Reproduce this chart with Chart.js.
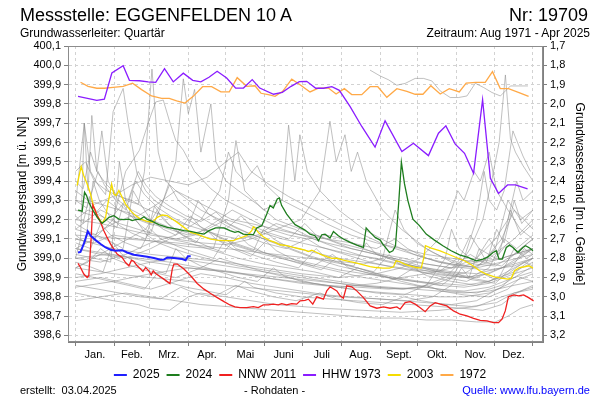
<!DOCTYPE html>
<html>
<head>
<meta charset="utf-8">
<script src="https://cdn.jsdelivr.net/npm/chart.js@4"></script>
<style>
  body { margin: 0; background: #fff; font-family: "Liberation Sans", Arial, sans-serif; }
  #wrap { position: relative; width: 600px; height: 400px; }
  canvas { position: absolute; left: 0; top: 0; }
  .t { position: absolute; white-space: nowrap; color: #000; line-height: 1; }
</style>
</head>
<body>
<div id="wrap">
  <canvas id="c" width="600" height="400"></canvas>
  <div class="t" style="left:20px;top:6px;font-size:18px">Messstelle: EGGENFELDEN 10 A</div>
  <div class="t" style="right:12px;top:6px;font-size:18px">Nr: 19709</div>
  <div class="t" style="left:20px;top:27px;font-size:12px">Grundwasserleiter: Quartär</div>
  <div class="t" style="right:10px;top:27px;font-size:12px">Zeitraum: Aug 1971 - Apr 2025</div>
  <div class="t" style="left:20px;top:385px;font-size:11px">erstellt:&nbsp; 03.04.2025</div>
  <div class="t" style="left:244px;top:385px;font-size:11px">- Rohdaten -</div>
  <div class="t" style="right:10px;top:385px;font-size:11px;color:#0000ff">Quelle: www.lfu.bayern.de</div>
</div>
<script>
// month labels and month starts (day of year)
const months = ['Jan.', 'Feb.', 'Mrz.', 'Apr.', 'Mai', 'Juni', 'Juli', 'Aug.', 'Sept.', 'Okt.', 'Nov.', 'Dez.'];
const monthStarts = [0, 31, 59, 90, 120, 151, 181, 212, 243, 273, 304, 334, 365];
const leftTicks = [398.6, 398.7, 398.8, 398.9, 399.0, 399.1, 399.2, 399.3, 399.4, 399.5, 399.6, 399.7, 399.8, 399.9, 400.0, 400.1];
const rightTicks = [1.7, 1.8, 1.9, 2.0, 2.1, 2.2, 2.3, 2.4, 2.5, 2.6, 2.7, 2.8, 2.9, 3.0, 3.1, 3.2];
const groundLevel = 401.8;

// [day of year, level m ü. NN]
const lvl2025 = [[2,399.030],[4,399.033],[6.6,399.074],[9.8,399.139],[12,399.117],[16,399.094],[20,399.074],[24,399.056],[28,399.044],[32,399.039],[37.2,399.042],[41.2,399.030],[46.6,399.018],[51.9,399.013],[57.2,399.008],[62.5,399.001],[67.9,398.992],[70.5,398.993],[73.2,399.004],[78.5,399.001],[85.1,398.996],[87.8,398.990],[89.7,399.011],[91.9,399.011]];

const lvl2024 = [[2,399.250],[4,399.247],[5.3,399.243],[7.2,399.342],[8.8,399.325],[10.6,399.290],[13.3,399.255],[17.3,399.212],[21.2,399.181],[24,399.195],[26.6,399.212],[30.6,399.221],[34.6,399.203],[38.6,399.200],[42.6,399.203],[45.2,399.195],[47.9,399.200],[51.9,399.203],[54.6,399.215],[57.2,399.201],[61.2,399.191],[66.5,399.174],[73.2,399.160],[81.2,399.151],[86.5,399.143],[91.9,399.139],[97.1,399.132],[102.5,399.125],[106.5,399.143],[111.8,399.157],[118.5,399.157],[123.2,399.143],[127.2,399.134],[129.9,399.139],[133.9,399.125],[137.9,399.122],[141.9,399.122],[144.6,399.157],[148.6,399.169],[152.6,399.229],[155.2,399.273],[157.8,399.261],[161,399.307],[162.6,399.313],[164.5,399.273],[168.5,399.229],[172.5,399.195],[175.2,399.174],[179.2,399.160],[183.1,399.146],[187.1,399.125],[191.1,399.117],[193.8,399.091],[196.5,399.122],[199.1,399.125],[203.1,399.105],[205.8,399.139],[209.7,399.117],[213.7,399.100],[219.1,399.082],[224.4,399.068],[229.7,399.056],[231.9,399.157],[235.1,399.134],[239.1,399.108],[243.1,399.094],[245.2,399.073],[250.5,399.030],[253.2,399.039],[255.3,399.065],[258,399.299],[260,399.498],[262.5,399.385],[265.2,399.299],[269.2,399.203],[274.4,399.169],[279.8,399.125],[286.4,399.094],[293.1,399.065],[299.7,399.039],[306.4,399.018],[313.1,399.004],[319.7,398.987],[325.1,398.996],[329.1,399.007],[333.1,399.030],[335.7,399.039],[337.9,398.996],[340.5,398.996],[343.7,399.056],[346.3,399.068],[349,399.056],[353,399.030],[357,399.056],[359.1,399.065],[362.3,399.053],[365,399.039]];

const lvlNNW2011 = [[2,398.973],[4,398.952],[6.6,398.918],[9.3,398.900],[10.6,398.909],[12.5,399.108],[13.8,399.276],[15.2,399.255],[17.3,399.221],[20,399.186],[22.6,399.143],[25.2,399.108],[28,399.073],[30.6,399.047],[33.2,399.022],[37.2,399.004],[39.9,398.978],[42.6,398.961],[44.7,398.990],[46.6,398.983],[49.2,398.961],[51.9,398.944],[53.8,398.931],[55.9,398.952],[58.5,398.935],[60.4,398.914],[62,398.935],[63.9,398.921],[66.5,398.909],[70.5,398.892],[73.2,398.879],[75.3,398.869],[77.2,398.944],[78.5,398.970],[81.2,398.970],[86.5,398.944],[91.9,398.909],[97.1,398.869],[102.5,398.840],[107.8,398.817],[113.1,398.796],[118.5,398.775],[123.2,398.758],[127.2,398.748],[131.2,398.744],[136.6,398.744],[141.9,398.749],[145.8,398.744],[149.8,398.758],[153.8,398.758],[157.7,398.762],[161.8,398.758],[164.5,398.765],[168.5,398.758],[172.5,398.765],[176.5,398.762],[179.2,398.779],[183.1,398.782],[185.8,398.788],[189.3,398.762],[192.5,398.800],[197.8,398.788],[200.5,398.831],[203.1,398.852],[208.5,398.831],[211.1,398.805],[213.7,398.793],[216.4,398.857],[220.4,398.852],[224.4,398.831],[229.7,398.796],[235.1,398.753],[240.4,398.741],[245.7,398.748],[251,398.741],[256.4,398.748],[259,398.736],[263,398.770],[267,398.775],[271,398.762],[275,398.744],[279,398.723],[283,398.753],[287,398.770],[291,398.762],[296.3,398.753],[301.6,398.727],[306.9,398.710],[312.3,398.701],[317.6,398.689],[322.9,398.678],[328.3,398.675],[333.5,398.666],[337.5,398.666],[340.3,398.684],[342.9,398.727],[345.4,398.800],[349.5,398.810],[353.5,398.805],[357.5,398.810],[361.5,398.796],[365.5,398.779]];

const lvlHHW1973 = [[2,399.839],[17,399.818],[23,399.824],[29,399.960],[38,399.998],[43,399.922],[51,399.920],[58,399.914],[64,399.912],[71,399.983],[78,399.914],[86,399.959],[93.5,399.922],[100,399.914],[106.5,399.938],[113,399.969],[120.6,399.934],[127.8,399.882],[134,399.882],[141,399.926],[147,399.882],[158,399.850],[165,399.860],[172,399.891],[178.6,399.915],[184.5,399.917],[191.7,399.881],[197.8,399.881],[204.5,399.889],[210.5,399.870],[219,399.787],[228.4,399.683],[239,399.576],[247,399.712],[260.4,399.553],[269.6,399.596],[281.6,399.532],[289.6,399.648],[295.5,399.686],[303,399.591],[310.4,399.544],[317.6,399.440],[324.8,399.822],[331,399.414],[337.5,399.336],[344.7,399.380],[351,399.380],[360.7,399.359]];

const lvl2003 = [[1.3,399.376],[2.6,399.420],[4.5,399.475],[6.6,399.428],[9.3,399.385],[12,399.333],[14.6,399.264],[17.3,399.221],[21.2,399.181],[24,399.212],[25.8,399.281],[27.4,399.333],[28.8,399.385],[30.6,399.333],[32.4,399.325],[34.6,399.351],[37.2,399.316],[39.9,399.281],[43.9,399.247],[47.9,399.221],[51.9,399.203],[57.2,399.191],[61.2,399.186],[65.2,399.212],[69.2,399.224],[73.2,399.221],[77.2,399.203],[81.2,399.186],[86.5,399.160],[91.9,399.134],[97.1,399.125],[102.5,399.111],[107.8,399.099],[113.1,399.094],[118.5,399.091],[125.9,399.091],[131.2,399.105],[136.6,399.117],[140.6,399.143],[141.9,399.163],[143.2,399.157],[145.8,399.134],[149.8,399.111],[155.2,399.091],[159.2,399.082],[163.2,399.070],[168.5,399.065],[173.8,399.056],[179.2,399.048],[183.1,399.042],[185.8,399.035],[188.5,399.042],[192.5,399.030],[196.5,399.018],[200.5,399.008],[204.5,398.999],[208.5,399.001],[213.7,398.990],[219.1,398.982],[224.4,398.975],[229.7,398.966],[235.1,398.957],[239.9,398.952],[245.2,398.949],[250.5,398.949],[253.7,398.956],[255.8,398.987],[258.5,398.983],[262.5,398.970],[266.5,398.961],[271.8,398.952],[275.8,398.949],[278,399.004],[279.2,399.065],[283.8,399.053],[290.4,399.039],[297.1,399.022],[303.8,399.004],[310.4,398.987],[317.1,398.961],[322.4,398.935],[327.7,398.918],[334.3,398.904],[339.7,398.897],[345,398.892],[347.8,398.897],[350.3,398.935],[354.3,398.952],[358.3,398.956],[361.8,398.961],[365,398.949]];

const lvl1972 = [[4,399.912],[10,399.891],[17,399.881],[23,399.881],[30,399.886],[38,399.891],[45.5,399.907],[52.7,399.874],[60.7,399.841],[68.7,399.829],[74.8,399.829],[80.7,399.816],[87.3,399.804],[93.9,399.839],[101.4,399.889],[108.6,399.889],[116,399.862],[122.7,399.862],[129,399.936],[136.6,399.891],[143.2,399.894],[148,399.855],[153.8,399.848],[159.2,399.839],[165.3,399.865],[172.5,399.928],[178.6,399.902],[187.1,399.862],[193.8,399.882],[201.8,399.882],[207.9,399.851],[214.5,399.879],[220.4,399.848],[228.4,399.848],[235,399.889],[241.2,399.889],[248.4,399.834],[256.4,399.879],[264.4,399.865],[271,399.850],[277.2,399.850],[283.5,399.894],[291,399.851],[298.2,399.879],[306.2,399.862],[311.7,399.908],[319.5,399.912],[326.9,399.912],[332.7,399.967],[338.9,399.879],[345.5,399.879],[354.9,399.856],[361.5,399.839]];

// other years (grey)
const grey1971 = [[235,399.975],[243,399.945],[249.7,399.925],[256.3,399.897],[263,399.906],[271,399.932],[277.7,399.932],[284.3,399.919],[291,399.867],[299,399.833],[305.6,399.833],[312.3,399.841],[319,399.907],[325.6,399.885],[332.3,399.859],[339,399.841],[347,399.893],[361,399.893]];
const greyA = [[0,399.28],[7,399.70],[12,399.45],[18,399.38],[24,399.33],[30,399.76],[38,399.88],[42,399.70],[49,399.44],[56,399.35],[63,399.30],[72,399.26],[84,399.22],[98,399.17],[112,399.12],[126,399.08],[140,399.05],[155,399.02],[170,399.00],[190,398.97],[210,398.94],[230,398.92],[250,398.90],[270,398.88],[290,398.87],[310,398.86],[330,398.88],[350,398.95],[365,399.00]];
const greyB = [[0,399.05],[15,399.10],[30,399.20],[40,399.45],[51,399.56],[59,399.72],[64,399.81],[70,399.82],[75,399.71],[80,399.61],[86,399.56],[95,399.45],[108,399.36],[120,399.30],[135,399.25],[150,399.20],[165,399.15],[180,399.12],[200,399.08],[220,399.05],[240,399.02],[260,398.99],[280,398.97],[300,398.95],[320,398.96],[340,399.00],[365,399.05]];
const greyC = [[0,399.15],[10,399.20],[20,399.25],[30,399.22],[40,399.30],[50,399.28],[55,399.45],[61,399.98],[66,399.55],[72,399.40],[80,399.35],[90,399.30],[100,399.25],[115,399.20],[130,399.15],[150,399.10],[170,399.05],[190,399.00],[210,398.96],[230,398.93],[250,398.90],[270,398.88],[290,398.86],[310,398.85],[330,398.87],[350,398.92],[365,398.95]];
const greyD = [[0,398.95],[14,399.00],[28,399.05],[42,399.10],[56,399.15],[70,399.30],[80,399.50],[86,399.93],[90,399.75],[95,399.875],[100,399.55],[108,399.80],[112,399.50],[120,399.40],[130,399.35],[145,399.28],[160,399.20],[180,399.15],[200,399.10],[220,399.05],[240,399.02],[260,398.99],[280,398.95],[300,398.92],[320,398.90],[340,398.95],[365,399.00]];
const greyE = [[0,399.10],[15,399.08],[30,399.12],[50,399.10],[70,399.08],[90,399.06],[110,399.05],[122,399.30],[128,399.61],[135,399.35],[150,399.25],[165,399.30],[170,399.69],[175,399.40],[179,399.64],[185,399.45],[195,399.35],[210,399.25],[230,399.15],[250,399.08],[270,399.02],[290,398.98],[310,398.95],[330,398.94],[350,398.96],[365,399.00]];
const greyF = [[0,399.20],[20,399.18],[40,399.15],[60,399.12],[80,399.10],[100,399.08],[120,399.07],[140,399.10],[160,399.15],[180,399.20],[195,399.35],[203,399.71],[208,399.50],[215,399.64],[220,399.45],[225,399.55],[232,399.40],[245,399.25],[260,399.15],[280,399.05],[300,398.98],[320,398.95],[340,398.98],[365,399.02]];
const greyG = [[0,399.00],[4,399.10],[7,399.70],[10,399.35],[13,399.74],[17,399.45],[21,399.66],[26,399.40],[34,399.30],[45,399.25],[60,399.20],[75,399.16],[90,399.13],[110,399.10],[130,399.06],[150,399.02],[170,398.99],[190,398.96],[210,398.93],[230,398.90],[250,398.88],[270,398.86],[290,398.84],[310,398.83],[330,398.85],[350,398.90],[365,398.93]];
const greyH = [[0,398.90],[20,398.92],[40,398.95],[60,398.98],[80,399.00],[100,398.98],[120,398.96],[140,398.94],[160,398.92],[180,398.90],[200,398.88],[220,398.86],[240,398.85],[260,398.84],[280,398.85],[300,398.90],[315,399.05],[325,399.20],[332,399.40],[338,399.60],[343,399.95],[347,399.62],[351,399.55],[357,399.48],[365,399.40]];
const greyI = [[0,399.00],[25,399.02],[50,399.00],[75,398.98],[100,398.95],[125,398.93],[150,398.90],[175,398.88],[200,398.86],[225,398.85],[250,398.84],[275,398.85],[295,398.90],[310,399.00],[320,399.20],[326,399.45],[330,399.30],[336,399.25],[342,399.35],[349,399.66],[357,399.53],[363,399.45]];
const greyJ = [[0,399.30],[15,399.28],[30,399.32],[45,399.38],[60,399.42],[75,399.40],[90,399.38],[105,399.42],[120,399.50],[130,399.55],[140,399.45],[155,399.38],[170,399.32],[190,399.25],[210,399.18],[230,399.12],[250,399.06],[270,399.02],[290,398.98],[310,398.96],[330,399.00],[350,399.10],[365,399.20]];
const greyK = [[0,398.78],[20,398.80],[40,398.82],[60,398.80],[80,398.78],[100,398.76],[120,398.75],[140,398.74],[160,398.73],[180,398.72],[200,398.71],[220,398.70],[240,398.69],[260,398.69],[280,398.68],[300,398.68],[320,398.67],[335,398.67],[345,398.70],[355,398.74],[365,398.76]];
const greyL = [[0,398.82],[15,398.80],[30,398.78],[50,398.76],[60,398.74],[75,398.73],[90,398.80],[100,398.82],[120,398.80],[140,398.78],[160,398.76],[180,398.75],[200,398.74],[230,398.73],[260,398.72],[290,398.73],[320,398.75],[340,398.80],[365,398.85]];
const greyM = [[0,398.88],[20,398.90],[40,398.87],[60,398.84],[80,398.88],[100,398.92],[120,398.90],[140,398.87],[160,398.85],[180,398.83],[200,398.81],[220,398.80],[240,398.79],[260,398.78],[280,398.77],[300,398.76],[320,398.78],[340,398.85],[355,398.95],[365,399.00]];
const greyN = [[0,398.95],[10,398.98],[20,399.05],[30,399.00],[45,398.96],[60,398.93],[80,398.90],[100,398.95],[115,399.00],[130,398.97],[150,398.93],[170,398.90],[190,398.87],[210,398.85],[230,398.83],[250,398.82],[270,398.81],[290,398.80],[310,398.80],[330,398.82],[350,398.88],[365,398.92]];
const greyO = [[0,399.15],[15,399.12],[30,399.18],[45,399.22],[60,399.18],[75,399.15],[90,399.12],[105,399.15],[120,399.20],[135,399.17],[150,399.13],[165,399.10],[180,399.08],[200,399.05],[220,399.02],[240,399.00],[260,398.97],[280,398.95],[300,398.93],[320,398.92],[340,398.95],[365,399.05]];
const greyP = [[0,399.20],[10,399.25],[20,399.22],[35,399.18],[50,399.15],[65,399.12],[80,399.10],[95,399.12],[110,399.18],[125,399.25],[140,399.20],[155,399.15],[170,399.12],[185,399.10],[200,399.12],[215,399.10],[230,399.05],[250,399.00],[270,398.96],[290,398.93],[310,398.92],[325,398.98],[340,399.10],[350,399.25],[358,399.20],[365,399.15]];
const greyQ = [[0,399.05],[20,399.02],[40,399.00],[60,399.05],[75,399.10],[90,399.08],[110,399.04],[130,399.00],[150,398.97],[170,398.95],[190,398.93],[210,398.90],[225,398.95],[240,398.92],[260,398.88],[280,398.85],[300,398.83],[320,398.82],[340,398.86],[355,398.92],[365,398.96]];
const greyR = [[0,399.35],[10,399.30],[20,399.28],[35,399.25],[50,399.22],[65,399.28],[80,399.35],[95,399.30],[110,399.25],[125,399.20],[140,399.18],[160,399.15],[180,399.12],[200,399.10],[220,399.08],[240,399.05],[255,399.10],[265,399.05],[280,399.00],[300,398.97],[320,398.95],[335,399.05],[345,399.30],[355,399.20],[365,399.25]];
const greyS = [[0,399.10],[30,399.05],[60,399.02],[90,399.00],[120,398.98],[150,398.95],[180,398.92],[210,398.90],[240,398.92],[260,398.95],[275,399.00],[290,399.10],[300,399.25],[305,399.35],[310,399.30],[318,399.45],[323,399.40],[330,399.55],[336,399.35],[345,399.25],[355,399.15],[365,399.10]];
const greyT = [[0,398.85],[30,398.88],[60,398.92],[90,398.95],[120,398.93],[150,398.90],[180,398.87],[210,398.85],[240,398.87],[260,398.90],[280,398.92],[300,398.95],[320,399.00],[335,399.10],[345,399.20],[352,399.40],[357,399.30],[365,399.35]];
const greyU = [[0,399.45],[8,399.50],[15,399.40],[25,399.35],[35,399.32],[45,399.30],[55,399.26],[70,399.22],[85,399.18],[100,399.15],[115,399.12],[130,399.10],[145,399.12],[160,399.18],[175,399.15],[190,399.10],[210,399.05],[230,399.01],[250,398.98],[270,398.95],[290,398.92],[310,398.90],[330,398.92],[350,398.98],[365,399.05]];
const greyV = [[0,399.00],[20,398.98],[40,399.02],[60,399.08],[80,399.12],[100,399.20],[115,399.35],[122,399.55],[128,399.45],[135,399.40],[145,399.48],[152,399.38],[165,399.30],[180,399.25],[200,399.18],[220,399.12],[240,399.08],[260,399.05],[280,399.02],[300,399.00],[320,398.98],[340,399.00],[365,399.05]];
const greyW = [[0,399.22],[6,399.18],[11,399.32],[16,399.25],[24,399.20],[33,399.16],[38,399.28],[44,399.22],[52,399.17],[60,399.13],[66,399.24],[74,399.18],[85,399.12],[96,399.08],[104,399.15],[112,399.10],[125,399.05],[140,399.01],[152,399.09],[160,399.04],[175,398.99],[190,398.96],[205,399.02],[215,398.97],[235,398.93],[255,398.90],[275,398.88],[292,398.86],[305,398.92],[315,398.89],[335,398.87],[348,398.95],[358,399.05],[365,399.02]];
const greyX = [[0,399.12],[8,399.08],[14,399.40],[19,399.30],[27,399.22],[35,399.17],[45,399.13],[56,399.10],[63,399.27],[70,399.20],[80,399.14],[92,399.10],[106,399.06],[118,399.03],[130,399.12],[138,399.07],[150,399.03],[165,399.00],[180,398.97],[196,398.94],[208,399.00],[218,398.95],[235,398.92],[255,398.89],[270,398.95],[280,398.91],[300,398.88],[320,398.86],[338,398.90],[350,399.05],[360,399.00],[365,399.02]];
const greyY = [[0,398.98],[10,398.96],[22,398.93],[30,399.08],[37,399.02],[48,398.98],[58,398.95],[72,398.92],[80,399.05],[88,399.00],[100,398.96],[115,398.93],[130,398.90],[145,398.88],[158,398.95],[166,398.91],[180,398.88],[200,398.86],[220,398.84],[240,398.82],[262,398.81],[280,398.86],[292,398.83],[310,398.81],[330,398.80],[345,398.84],[355,398.90],[365,398.88]];
const greyZ = [[0,399.30],[9,399.26],[18,399.45],[23,399.38],[32,399.30],[40,399.25],[48,399.40],[55,399.33],[66,399.26],[78,399.21],[90,399.17],[98,399.30],[106,399.23],[120,399.17],[135,399.12],[150,399.08],[168,399.05],[185,399.10],[195,399.06],[215,399.02],[235,398.98],[255,398.95],[275,398.93],[295,398.91],[315,398.90],[330,398.95],[342,399.10],[352,399.05],[365,399.12]];
const greyAA = [[0,399.08],[12,399.05],[20,399.18],[28,399.12],[40,399.08],[52,399.05],[60,399.15],[68,399.10],[82,399.06],[95,399.03],[110,399.00],[120,399.10],[128,399.05],[145,399.01],[160,398.98],[178,398.95],[192,399.05],[200,399.00],[218,398.96],[238,398.93],[250,399.02],[258,398.97],[275,398.93],[295,398.90],[312,398.88],[325,398.92],[335,398.89],[350,398.93],[365,398.98]];
const greyAB = [[0,398.92],[15,398.90],[28,398.88],[42,398.86],[55,398.84],[65,398.92],[72,398.88],[88,398.85],[105,398.83],[120,398.81],[135,398.88],[142,398.85],[160,398.82],[180,398.80],[200,398.79],[222,398.78],[245,398.77],[268,398.76],[290,398.75],[310,398.74],[325,398.73],[340,398.76],[352,398.82],[365,398.86]];
const greyAC = [[0,399.40],[6,399.36],[12,399.55],[17,399.45],[25,399.38],[33,399.33],[42,399.30],[50,399.45],[56,399.38],[64,399.32],[75,399.27],[88,399.22],[100,399.19],[112,399.24],[122,399.18],[138,399.13],[155,399.09],[172,399.06],[190,399.03],[210,399.00],[230,398.98],[250,398.96],[270,398.94],[290,398.93],[305,399.00],[318,398.97],[335,398.96],[350,399.02],[365,399.10]];
const greyAD = [[0,399.18],[10,399.14],[20,399.11],[30,399.08],[38,399.05],[46,399.35],[52,399.28],[60,399.20],[70,399.15],[80,399.12],[92,399.22],[100,399.16],[114,399.11],[128,399.07],[142,399.04],[150,399.15],[158,399.10],[172,399.05],[188,399.01],[205,398.98],[222,398.96],[232,399.08],[240,399.02],[258,398.98],[276,398.95],[295,398.92],[313,398.90],[330,398.88],[345,398.92],[358,398.98],[365,398.96]];
const greyAE = [[0,398.86],[18,398.84],[35,398.82],[52,398.80],[68,398.79],[84,398.85],[95,398.82],[110,398.80],[128,398.86],[140,398.83],[158,398.80],[176,398.78],[195,398.82],[208,398.79],[226,398.77],[245,398.76],[262,398.80],[276,398.78],[295,398.76],[316,398.75],[336,398.77],[350,398.82],[365,398.84]];
const greyAF = [[0,399.25],[14,399.22],[25,399.30],[35,399.25],[50,399.20],[62,399.17],[75,399.38],[82,399.30],[95,399.23],[108,399.18],[120,399.15],[132,399.22],[140,399.17],[155,399.13],[170,399.10],[183,399.18],[192,399.12],[210,399.08],[228,399.05],[245,399.02],[262,399.00],[280,398.97],[300,398.95],[315,399.02],[325,398.98],[340,398.96],[355,399.05],[365,399.10]];
const greyAG = [[0,398.95],[30,398.92],[60,398.90],[90,398.88],[120,398.86],[150,398.84],[180,398.82],[210,398.80],[240,398.79],[265,398.78],[285,398.80],[300,398.86],[308,398.95],[314,398.90],[322,399.05],[328,398.98],[336,399.15],[342,399.08],[350,399.30],[356,399.18],[365,399.25]];
const greyAH = [[0,399.05],[30,399.02],[60,398.98],[90,398.95],[120,398.93],[150,398.91],[180,398.89],[210,398.87],[240,398.85],[262,398.84],[280,398.86],[295,399.00],[300,399.15],[306,399.05],[318,398.98],[330,399.10],[338,399.02],[347,399.25],[355,399.12],[365,399.18]];
const greyAI = [[0,399.02],[15,399.00],[28,398.98],[35,399.50],[40,399.30],[48,399.20],[57,399.12],[66,399.08],[78,399.05],[92,399.02],[110,398.99],[130,398.96],[150,398.94],[170,398.92],[190,398.90],[210,398.88],[230,398.86],[250,398.85],[270,398.84],[290,398.83],[310,398.82],[330,398.83],[350,398.86],[365,398.88]];
const greyAJ = [[0,399.12],[40,399.10],[80,399.08],[120,399.05],[160,399.02],[200,398.99],[230,398.97],[245,399.00],[255,399.25],[262,399.15],[272,399.08],[285,399.03],[295,399.00],[305,398.98],[315,399.12],[322,399.05],[335,399.00],[345,399.08],[355,399.02],[365,399.05]];

const greyYears = [grey1971, greyA, greyB, greyC, greyD, greyE, greyF, greyG, greyH, greyI, greyJ, greyK, greyL, greyM,
  greyN, greyO, greyP, greyQ, greyR, greyS, greyT, greyU, greyV, greyW, greyX, greyY, greyZ, greyAA, greyAB, greyAC,
  greyAD, greyAE, greyAF, greyAG, greyAH, greyAI, greyAJ];

const fmt = v => v.toFixed(1).replace('.', ',');
const monthMids = months.map((m, i) => (monthStarts[i] + monthStarts[i + 1]) / 2);

function line(label, data, color, width) {
  return { label, data, borderColor: color, backgroundColor: color, borderWidth: width,
           pointRadius: 0, tension: 0, fill: false };
}

const datasets = [
  line('2025', lvl2025, '#1f1fff', 2),
  line('2024', lvl2024, '#1e7d1e', 1.3),
  line('NNW 2011', lvlNNW2011, '#f02020', 1.3),
  line('HHW 1973', lvlHHW1973, '#8a1cff', 1.3),
  line('2003', lvl2003, '#f5dc00', 1.3),
  line('1972', lvl1972, '#ffa947', 1.3)
];
greyYears.forEach((g, i) => datasets.push(line('grey' + i, g, 'rgba(140,140,140,0.55)', 1)));

const frame = {
  id: 'frame',
  afterDatasetsDraw(chart) {
    const a = chart.chartArea, ctx = chart.ctx;
    ctx.save();
    ctx.strokeStyle = '#8c8c8c';
    ctx.lineWidth = 1;
    ctx.strokeRect(a.left + 0.5, a.top + 0.5, a.width - 1, a.height - 1);
    ctx.restore();
  }
};

const tickFont = { family: '"Liberation Sans", Arial, sans-serif', size: 11 };

new Chart(document.getElementById('c'), {
  type: 'line',
  data: { datasets },
  options: {
    responsive: false,
    animation: false,
    layout: { padding: { top: 46, bottom: 9, left: 0, right: 0 } },
    plugins: {
      tooltip: { enabled: false },
      legend: {
        position: 'bottom',
        labels: {
          boxWidth: 13, boxHeight: 2, padding: 7, color: '#000',
          font: { family: '"Liberation Sans", Arial, sans-serif', size: 12 },
          filter: item => item.datasetIndex < 6,
          generateLabels: chart => Chart.defaults.plugins.legend.labels.generateLabels(chart)
            .map(l => Object.assign(l, { lineWidth: 0 }))
        }
      }
    },
    scales: {
      x: {
        type: 'linear', min: -6, max: 373,
        afterBuildTicks: s => { s.ticks = monthStarts.concat(monthMids).sort((a, b) => a - b).map(v => ({ value: v })); },
        afterFit: s => { s.height = 20; },
        ticks: {
          autoSkip: false, maxRotation: 0, padding: 2, color: '#000', font: tickFont,
          callback: v => { const i = monthMids.indexOf(v); return i >= 0 ? months[i] : ''; }
        },
        grid: {
          color: c => monthStarts.includes(c.tick.value) ? '#d2d2d2' : 'transparent',
          tickColor: c => monthStarts.includes(c.tick.value) ? '#808080' : 'transparent',
          tickLength: 4
        },
        border: { color: '#808080', dash: [3, 3] }
      },
      y: {
        position: 'left', min: 398.566, max: 400.1,
        afterBuildTicks: s => { s.ticks = leftTicks.map(v => ({ value: v })); },
        afterFit: s => { s.width = 68; },
        ticks: { color: '#000', font: tickFont, padding: 3, callback: v => fmt(v) },
        grid: { color: '#d2d2d2', tickColor: '#808080', tickLength: 4 },
        border: { color: '#808080', dash: [3, 3] },
        title: { display: true, text: 'Grundwasserstand [m ü. NN]', color: '#000',
                 font: { family: '"Liberation Sans", Arial, sans-serif', size: 12 }, padding: { top: 15, bottom: 0 } }
      },
      y2: {
        position: 'right', reverse: true, min: groundLevel - 400.1, max: groundLevel - 398.566,
        afterBuildTicks: s => { s.ticks = rightTicks.map(v => ({ value: v })); },
        afterFit: s => { s.width = 57; },
        ticks: { color: '#000', font: tickFont, padding: 3, callback: v => fmt(v) },
        grid: { drawOnChartArea: false, tickColor: '#808080', tickLength: 4 },
        border: { color: '#808080' },
        title: { display: true, text: 'Grundwasserstand [m u. Gelände]', color: '#000',
                 font: { family: '"Liberation Sans", Arial, sans-serif', size: 12 }, padding: { top: 13, bottom: 0 } }
      }
    }
  },
  plugins: [frame]
});
</script>
</body>
</html>
